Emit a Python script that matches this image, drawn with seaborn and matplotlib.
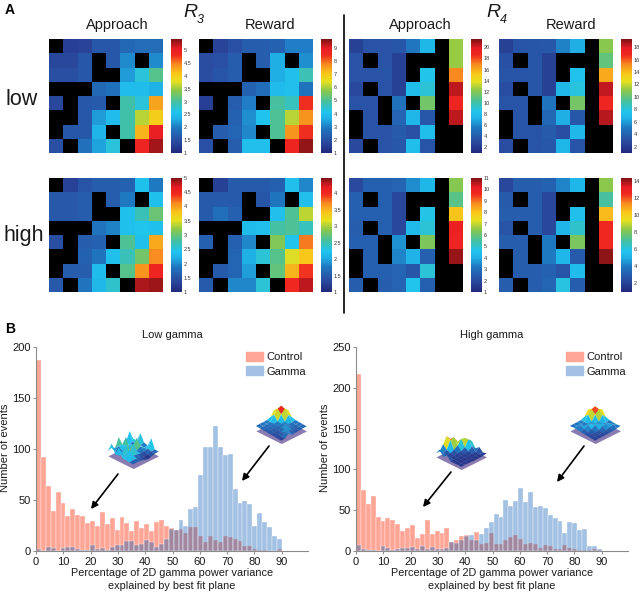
import matplotlib
matplotlib.use("Agg")
import matplotlib.pyplot as plt
from matplotlib.colors import LinearSegmentedColormap
from matplotlib.patches import FancyArrowPatch, Patch
from matplotlib.ticker import FormatStrFormatter
import numpy as np
import pandas as pd
import seaborn as sns

W, H = 640, 592
N = np.nan

# panel A, rows are top to bottom, nan cells are black
low_r3_approach = [[N,1.3,1.35,1.6,1.6,1.8,1.85,1.85],
                   [1.4,1.4,1.6,N,1.6,2.1,N,2.1],
                   [1.5,1.5,1.6,N,N,2.2,2.7,3.1],
                   [N,N,N,1.8,1.9,2.5,2.5,2.35],
                   [1.4,N,1.6,1.65,N,2.95,2.7,4.3],
                   [N,N,1.6,2.2,2.5,2.95,3.6,4.0],
                   [N,1.6,1.6,2.4,N,2.95,4.2,5.0],
                   [1.5,N,1.9,2.25,2.7,N,4.9,5.3]]
low_r3_reward = [[N,1.7,2,2.3,2.3,2.4,3.0,3.0],
                 [1.9,2.0,2.3,N,2.3,3.6,N,3.2],
                 [1.9,2.1,2.3,N,N,3.6,4.0,4.7],
                 [N,N,N,2.4,2.7,3.9,4.0,2.8],
                 [1.6,N,2.3,3,N,4.9,4.6,8.4],
                 [N,N,2.4,3.2,4.1,5,6.1,7.6],
                 [N,2.3,2.5,3.1,N,5,7.6,8.4],
                 [2.0,N,2.3,4,4,N,8.6,9.5]]
low_r4_approach = [[2.5,3.5,3.5,3.7,5.5,7.5,N,12.5],
                   [3.5,N,3.5,2.5,N,N,N,12.5],
                   [3.5,3.5,3.6,2.5,N,8.5,N,17],
                   [3,N,3.5,2.5,8,9,N,20.5],
                   [3.5,3.5,N,5.3,N,11.5,N,19],
                   [N,3.5,N,4.5,7.5,3.8,N,20.5],
                   [N,3.5,3.5,4,3.4,8,N,N],
                   [3,N,3.5,3.8,8,3.6,N,N]]
low_r4_reward = [[2.3,3.3,3.4,3.5,5.3,6.5,N,11],
                 [3.2,N,3.4,2.3,N,N,N,10],
                 [3.3,3.3,3.4,2.3,N,7.5,N,14.5],
                 [3,N,3.4,2.3,7,8,N,18.3],
                 [3.3,3.3,N,4.9,N,10.5,N,17],
                 [N,3.3,N,4.3,6.5,3.5,N,18.5],
                 [N,3.3,3.3,3.7,3,7,N,N],
                 [2.9,N,3.3,3.5,6.8,3.3,N,N]]
high_r3_approach = [[N,1.3,1.5,1.6,1.6,1.65,2.4,1.9],
                    [1.55,1.55,1.6,N,1.6,1.9,N,2.4],
                    [1.55,1.55,1.6,N,N,2.4,2.7,3.0],
                    [N,N,N,1.85,1.95,2.4,2.45,2.4],
                    [1.45,N,1.6,1.65,N,2.85,2.4,3.95],
                    [N,N,1.65,1.85,2.4,2.7,3.05,4.1],
                    [N,1.6,1.6,2.35,N,2.9,4.05,4.5],
                    [1.55,N,1.85,2.3,2.6,N,4.85,4.9]]
high_r3_reward = [[N,1.25,1.5,1.5,1.5,1.55,2.2,1.85],
                  [1.5,1.5,1.5,N,1.45,1.75,N,2.2],
                  [1.5,1.7,1.55,N,N,2.2,2.6,3.05],
                  [N,N,N,2.15,2.2,2.55,2.6,2.45],
                  [1.55,N,1.55,1.85,N,2.85,2.25,3.75],
                  [N,N,1.6,2.05,2.35,2.65,3.15,3.4],
                  [N,1.5,1.6,1.95,N,2.7,3.5,3.95],
                  [1.5,N,1.85,1.85,2.35,N,4,4.3]]
high_r4_approach = [[2,2.6,2.6,2.7,3.5,4.2,N,6.4],
                    [2.6,N,2.6,1.9,N,N,N,5.8],
                    [2.6,2.6,2.6,1.9,N,4.7,N,8],
                    [2.5,N,2.6,1.9,4.3,4.9,N,9.9],
                    [2.6,2.6,N,3.6,N,6.3,N,9.8],
                    [N,2.6,N,3.4,4.1,2.6,N,10.8],
                    [N,2.6,2.6,2.7,2.3,4.9,N,N],
                    [2.5,N,2.5,2.7,4.6,2.6,N,N]]
high_r4_reward = [[2.2,3,3,3.2,4.2,5.3,N,8.3],
                  [2.9,N,3,2.2,N,N,N,7],
                  [3,3,3,2.2,N,5.6,N,10.5],
                  [2.7,N,3,2.2,5.2,6.3,N,12.5],
                  [3,3,N,4,N,8,N,12.5],
                  [N,3,N,4,5.3,2.9,N,14.1],
                  [N,3,3,3.2,2.7,5.5,N,N],
                  [3,N,3,3.3,6,3,N,N]]

# colour range and colorbar ticks of each heatmap
vmaxes = [[5.43, 9.66, 21.5, 19.3], [5.0, 4.47, 11.0, 14.3]]
bar_ticks = [[[1,1.5,2,2.5,3,3.5,4,4.5,5], list(range(1,10)), list(range(2,21,2)), list(range(2,19,2))],
             [[1,1.5,2,2.5,3,3.5,4,4.5,5], [1,1.5,2,2.5,3,3.5,4], list(range(1,12)), list(range(2,15,2))]]

# panel B, counts in 50 bins between 0 and 90
low_control = [187,92,64,39,58,47,34,41,35,34,27,29,25,38,26,32,21,33,27,20,29,23,26,20,28,
               30,25,23,21,22,18,24,24,15,9,15,11,9,15,14,12,10,5,5,2,1,1,0,0,2]
low_gamma = [2,0,4,3,0,3,4,4,2,1,1,6,2,3,1,4,6,6,10,10,6,7,11,9,4,
             7,12,22,21,30,25,41,43,75,102,102,123,102,94,95,61,47,49,46,25,37,28,24,15,12]
high_control = [217,75,58,67,42,37,40,38,33,25,28,32,16,21,38,21,25,22,28,11,14,18,20,14,23,
                9,10,22,9,9,14,17,19,15,8,10,8,4,7,6,3,3,7,4,3,1,1,1,2,1]
high_gamma = [7,2,1,1,0,6,4,1,3,4,4,5,3,6,2,5,3,3,4,11,10,14,18,20,14,
              21,28,36,45,42,62,55,61,77,60,72,54,55,53,44,40,37,22,36,34,26,27,6,6,3]
bin_edges = list(np.linspace(0, 90, 51))
bin_mids = [(a + b) / 2 for a, b in zip(bin_edges[:-1], bin_edges[1:])]

# little surfaces over the histograms, back corner first
surf_low_rough = [[.18,.85,.20,.16,.80,.18,.30,.18],
                  [.20,.22,.18,.78,.40,.42,.18,.85],
                  [.82,.18,.24,.20,.42,.20,.02,.24],
                  [.30,.24,.85,.45,.24,.80,.20,.82],
                  [.20,.18,.40,.20,.85,.30,.26,.20],
                  [.85,.24,.18,.14,.20,.24,.82,.18],
                  [.18,.20,.08,.02,.14,.18,.20,.16],
                  [.16,.14,.06,.00,.08,.14,.16,.14]]
surf_low_peak = [[.24,.34,.68,.32,.24,.22,.22,.20],
                 [.34,1.0,.90,.62,.24,.22,.20,.18],
                 [.68,.90,.64,.26,.22,.20,.18,.16],
                 [.30,.60,.24,.22,.20,.18,.16,.14],
                 [.24,.22,.20,.30,.16,.14,.13,.12],
                 [.22,.20,.18,.30,.30,.13,.11,.10],
                 [.20,.18,.16,.14,.30,.30,.10,.08],
                 [.18,.16,.14,.12,.10,.30,.08,.06]]
surf_high_rough = [[.06,.10,.28,.62,.95,.50,.12,.10],
                   [.10,.16,.42,.85,.78,.24,.12,.50],
                   [.12,.68,.72,.42,.22,.10,.08,.12],
                   [.46,.70,.26,.12,.10,.08,.06,.36],
                   [.08,.36,.12,.08,.06,.05,.06,.06],
                   [.30,.08,.06,.05,.05,.05,.05,.05],
                   [.05,.06,.05,.04,.04,.05,.05,.06],
                   [.10,.05,.04,.03,.04,.05,.06,.05]]
surf_high_peak = [[.24,.34,.72,.34,.24,.22,.22,.20],
                  [.36,.95,.88,.62,.24,.22,.20,.22],
                  [.72,.88,.62,.26,.22,.22,.34,.20],
                  [.32,.60,.24,.22,.36,.38,.22,.16],
                  [.24,.22,.20,.36,.38,.22,.14,.12],
                  [.20,.22,.36,.30,.16,.12,.11,.10],
                  [.18,.34,.22,.14,.12,.10,.08,.08],
                  [.22,.16,.12,.10,.09,.08,.08,.06]]

jet_like = LinearSegmentedColormap.from_list("jet_like", [
    (0.00, "#20287c"), (0.10, "#2a4ba0"), (0.22, "#1f76bf"), (0.30, "#1fb0e6"),
    (0.36, "#20c4ee"), (0.45, "#45c0a0"), (0.55, "#8cc84a"), (0.63, "#e8e01e"),
    (0.70, "#f9c51a"), (0.78, "#f7891f"), (0.86, "#f0281f"), (0.92, "#e81c24"),
    (1.00, "#7d1315")])

sns.set_theme(style="ticks")
plt.rcParams["font.family"] = ["Liberation Sans", "DejaVu Sans"]

fig = plt.figure(figsize=(W / 100, H / 100), dpi=100)


def box(x0, y0, x1, y1, **kw):
    # axes from pixel corners, y counted from the top
    return fig.add_axes([x0 / W, 1 - y1 / H, (x1 - x0) / W, (y1 - y0) / H], **kw)


def label(x, y, s, **kw):
    kw.setdefault("ha", "center")
    kw.setdefault("va", "center")
    kw.setdefault("color", "#1a1a1a")
    fig.text(x / W, 1 - y / H, s, **kw)


heat_rows = [[low_r3_approach, low_r3_reward, low_r4_approach, low_r4_reward],
             [high_r3_approach, high_r3_reward, high_r4_approach, high_r4_reward]]
heat_left = [49, 199, 349, 499]
heat_top = [39, 178]

for r in range(2):
    for c in range(4):
        x0 = heat_left[c]
        y0 = heat_top[r]
        ax = box(x0, y0, x0 + 114, y0 + 114)
        cax = box(x0 + 122, y0, x0 + 133, y0 + 114)
        ax.set_facecolor("black")
        sns.heatmap(pd.DataFrame(heat_rows[r][c]), ax=ax, cbar_ax=cax, cmap=jet_like,
                    vmin=1, vmax=vmaxes[r][c], xticklabels=False, yticklabels=False,
                    cbar_kws={"ticks": bar_ticks[r][c], "format": FormatStrFormatter("%g")})
        cax.tick_params(labelsize=4, length=0, pad=1.5, colors="#333333")

for x, s in zip([117, 270, 420, 571], ["Approach", "Reward", "Approach", "Reward"]):
    label(x, 25, s, fontsize=10.5)
label(22, 100, "low", fontsize=15.5)
label(24, 236, "high", fontsize=15.5)
label(183, 17, "R", fontsize=14, style="italic", ha="left", va="baseline")
label(197, 23, "3", fontsize=9, style="italic", ha="left", va="baseline")
label(486, 17, "R", fontsize=14, style="italic", ha="left", va="baseline")
label(500, 23, "4", fontsize=9, style="italic", ha="left", va="baseline")
label(5, 10, "A", fontsize=10, fontweight="bold", ha="left", color="black")
label(5, 329, "B", fontsize=10, fontweight="bold", ha="left", color="black")
fig.add_artist(plt.Line2D([344 / W, 344 / W], [1 - 15 / H, 1 - 313 / H], color="black", lw=1.2))

control_color = "#ffa595"
gamma_color = (0, 83 / 255, 175 / 255, 1)
gamma_alpha = 0.36
gamma_key = "#a3c1e2"

hist_setup = [(36, 308, low_control, low_gamma, 200, range(0, 201, 50), "Low gamma", 172),
              (356, 628, high_control, high_gamma, 250, range(0, 251, 50), "High gamma", 492)]

for x0, x1, control, gamma, ymax, yticks, title, mid in hist_setup:
    ax = box(x0, 347, x1, 551)
    sns.histplot(x=bin_mids, weights=control, bins=bin_edges, color=control_color, alpha=1,
                 edgecolor="white", linewidth=0.25, ax=ax)
    sns.histplot(x=bin_mids, weights=gamma, bins=bin_edges, color=gamma_color, alpha=gamma_alpha,
                 edgecolor="white", linewidth=0.25, ax=ax)
    ax.set_xlim(0, 99.6)
    ax.set_ylim(0, ymax)
    ax.set_xticks(range(0, 91, 10))
    ax.set_yticks(list(yticks))
    ax.set_xlabel("")
    ax.set_ylabel("")
    sns.despine(ax=ax)
    for side in ["left", "bottom"]:
        ax.spines[side].set_color("#8c8c8c")
        ax.spines[side].set_linewidth(0.8)
    ax.tick_params(labelsize=8, length=2.5, width=0.7, pad=1.5, color="#8c8c8c", labelcolor="#1a1a1a")
    handles = [Patch(color=control_color, label="Control"),
               Patch(color=gamma_key, label="Gamma")]
    ax.legend(handles=handles, loc="upper left", bbox_to_anchor=(210 / 272, 0.975),
              frameon=False, fontsize=8, handlelength=1.55, handleheight=0.85, labelspacing=0.35,
              handletextpad=0.3, borderpad=0.0, borderaxespad=0.0, labelcolor="#1a1a1a")
    label(mid, 335, title, fontsize=8)
    label(mid, 573, "Percentage of 2D gamma power variance", fontsize=7.8)
    label(mid, 586, "explained by best fit plane", fontsize=7.8)
    label(x0 - 31, 448, "Number of events", fontsize=8, rotation=90)

arrows = [((118, 474), (91, 509)), ((269, 446), (242, 481)),
          ((451, 472), (423, 507)), ((584, 446), (557, 482))]
for start, end in arrows:
    fig.add_artist(FancyArrowPatch((start[0] / W, 1 - start[1] / H), (end[0] / W, 1 - end[1] / H),
                                   transform=fig.transFigure, arrowstyle="-|>", mutation_scale=10,
                                   lw=1.2, color="black", shrinkA=0, shrinkB=0))

insets = [(surf_low_rough, 132, 448), (surf_low_peak, 280, 423),
          (surf_high_rough, 460, 449), (surf_high_peak, 594, 423)]
for grid, cx, cy in insets:
    ax3 = box(cx - 45, cy - 45, cx + 45, cy + 45, projection="3d")
    ax3.patch.set_alpha(0)
    ax3.set_proj_type("ortho")
    ax3.view_init(elev=30, azim=45)
    ax3.computed_zorder = False
    grid = np.array(grid)
    xs, ys = np.meshgrid(np.arange(8), np.arange(8))
    plate_x, plate_y = np.meshgrid([0, 7], [0, 7])
    ax3.plot_surface(plate_x, plate_y, np.full((2, 2), -0.14), color="#8a7bb0", shade=False, linewidth=0, zorder=1)
    ax3.plot_surface(xs, ys, grid, cmap=jet_like, vmin=0, vmax=1, shade=False,
                     rstride=1, cstride=1, linewidth=0, antialiased=True, zorder=2)
    ax3.set_box_aspect((1, 1, 0.4), zoom=0.65)
    ax3.set_zlim(0, 1)
    ax3.set_axis_off()

fig.savefig("out.png", dpi=100)
